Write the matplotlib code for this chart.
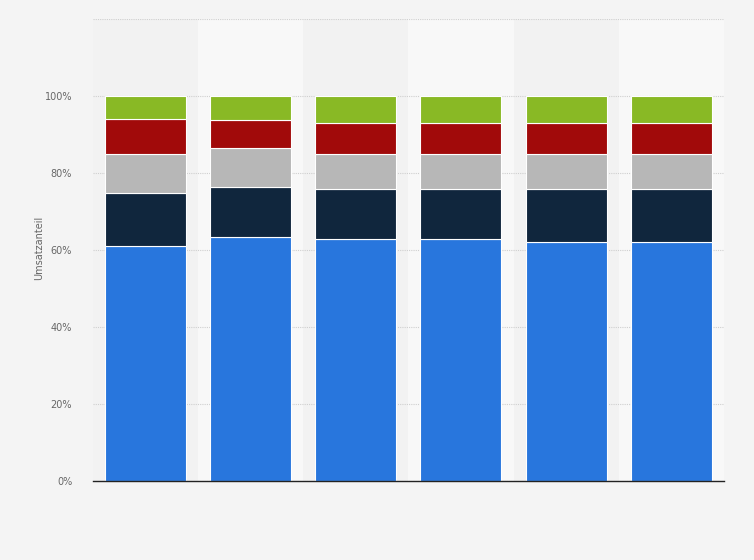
import matplotlib
matplotlib.use("Agg")
import matplotlib.pyplot as plt
import numpy as np

# Umsatzanteile je Segment (in %), 6 Kategorien ohne Beschriftung
kategorien = ["", "", "", "", "", ""]
blau = [61.0, 63.3, 62.9, 62.8, 62.1, 62.1]
dunkelblau = [13.8, 13.1, 13.0, 13.1, 13.8, 13.8]
grau = [10.2, 10.1, 9.0, 9.0, 9.0, 9.0]
rot = [9.0, 7.3, 8.0, 8.0, 8.0, 8.0]
gruen = [6.0, 6.2, 7.1, 7.1, 7.1, 7.1]

serien = [blau, dunkelblau, grau, rot, gruen]
farben = ["#2876dd", "#10263d", "#b7b7b7", "#a10a0a", "#89b925"]

fig = plt.figure(figsize=(7.54, 5.6), dpi=100)
fig.patch.set_facecolor("#f4f4f4")
ax = fig.add_axes([0.1233, 0.1411, 0.8367, 0.8250])
ax.set_facecolor("#f2f2f2")

x = np.arange(len(kategorien))
# abwechselnde Hintergrundstreifen
for i in x:
    if i % 2 == 1:
        ax.axvspan(i - 0.5, i + 0.5, color="#f8f8f8", zorder=0, lw=0)

unten = np.zeros(len(kategorien))
for werte, farbe in zip(serien, farben):
    ax.bar(x, werte, bottom=unten, width=0.77, color=farbe,
           edgecolor="white", linewidth=0.8, zorder=3)
    unten += np.array(werte)

ax.set_xlim(-0.5, len(kategorien) - 0.5)
ax.set_ylim(0, 120)
ax.set_yticks([0, 20, 40, 60, 80, 100, 120])
ax.set_yticklabels(["0%", "20%", "40%", "60%", "80%", "100%", ""])
ax.set_xticks([])
ax.grid(axis="y", color="#cfcfcf", linestyle=(0, (1, 1)), linewidth=0.8, zorder=1)
ax.tick_params(axis="y", length=0, labelsize=7, labelcolor="#666666", pad=15)

for s in ["top", "right", "left"]:
    ax.spines[s].set_visible(False)
ax.spines["bottom"].set_color("#222222")
ax.spines["bottom"].set_linewidth(1)
ax.spines["bottom"].set_zorder(4)

ax.set_ylabel("Umsatzanteil", fontsize=7, color="#666666")
ax.yaxis.set_label_coords(-0.077, 0.505)

fig.savefig("out.png", dpi=100, facecolor=fig.get_facecolor())
